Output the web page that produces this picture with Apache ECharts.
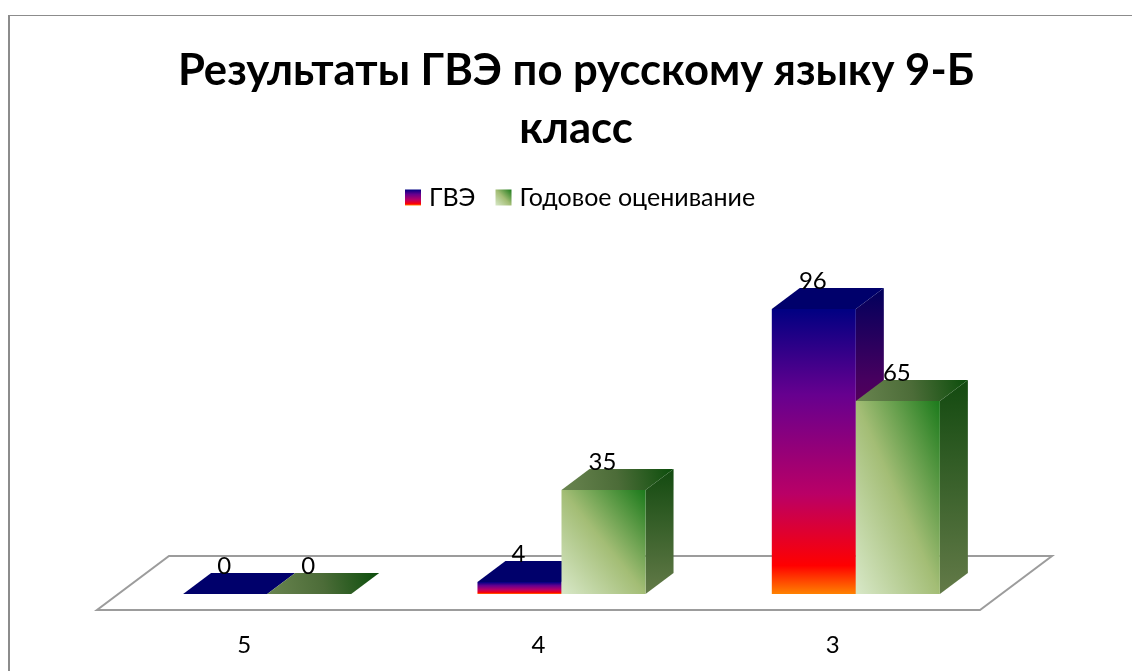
<!DOCTYPE html>
<html>
<head>
<meta charset="utf-8">
<style>html,body{margin:0;padding:0;background:#fff;overflow:hidden}#c{width:1132px;height:671px}</style>
<script src="https://cdn.jsdelivr.net/npm/echarts@6/dist/echarts.min.js"></script>
</head>
<body>
<div id="c"></div>
<script>
const titleText = 'Результаты ГВЭ по русскому языку 9-Б\nкласс';
const categories = ['5', '4', '3'];
const seriesNames = ['ГВЭ', 'Годовое оценивание'];
const gveValues = [0, 4, 96];
const yearValues = [0, 35, 65];

const FONT = 'Lato, "Open Sans", sans-serif';
const LG = echarts.graphic.LinearGradient;
const stops = a => a.map(([offset, color]) => ({offset, color}));
const DEPTH_X = 28, DEPTH_Y = -21, BAR_FRAC = 0.2855;

function diagonal(w, h, colorStops) {
  const L2 = w * w + h * h;
  const dx = h * h / L2, dy = w * w / L2;
  return new LG(0.5 - dx, 0.5 + dy, 0.5 + dx, 0.5 - dy, stops(colorStops));
}
const GREEN_STOPS = [[0,'#d8e8c8'],[0.5,'#a3bd75'],[1,'#1b7a1b']];

const paints = [
  {
    front: () => new LG(0, 0, 0, 1, stops([[0,'#000082'],[0.3,'#66008f'],[0.65,'#ba0066'],[0.9,'#ff0000'],[1,'#ff8200']])),
    top: () => '#00006b',
    side: () => new LG(0, 0, 0, 1, stops([[0,'#00005c'],[0.3,'#47005f'],[0.65,'#820047'],[1,'#a00000']]))
  },
  {
    front: (w, h) => diagonal(w, h, GREEN_STOPS),
    top: () => new LG(0, 1, 1, 0, stops([[0,'#6a8550'],[0.5,'#4c6c38'],[1,'#0b4d0b']])),
    side: () => new LG(0, 0, 0, 1, stops([[0,'#134a10'],[1,'#637a48']]))
  }
];

function barRenderer(seriesIndex) {
  return function (params, api) {
    const idx = api.value(0), val = api.value(1);
    const band = api.size([1, 0])[0];
    const w = band * BAR_FRAC;
    const center = api.coord([idx, 0])[0];
    const x0 = seriesIndex === 0 ? center - w : center;
    const x1 = x0 + w;
    const yb = api.coord([idx, 0])[1];
    const yt = api.coord([idx, val])[1];
    const p = paints[seriesIndex];
    const children = [];
    if (val > 0) {
      children.push({type:'polygon', shape:{points:[[x1,yt],[x1+DEPTH_X,yt+DEPTH_Y],[x1+DEPTH_X,yb+DEPTH_Y],[x1,yb]]}, style:{fill:p.side()}});
      children.push({type:'rect', shape:{x:x0,y:yt,width:w,height:yb-yt}, style:{fill:p.front(w, yb-yt)}});
    }
    children.push({type:'polygon', shape:{points:[[x0,yt],[x1,yt],[x1+DEPTH_X,yt+DEPTH_Y],[x0+DEPTH_X,yt+DEPTH_Y]]}, style:{fill:p.top()}});
    children.push({type:'text', z2:10, style:{text:String(val), x:(x0+x1)/2-1, y:yt-28, align:'center', verticalAlign:'middle', fill:'#000', font:'24px '+FONT}});
    return {type:'group', children};
  };
}

function floorRenderer(params) {
  const c = params.coordSys;
  const yb = c.y + c.height;
  const l = c.x, r = c.x + c.width;
  return {type:'polygon', silent:true, shape:{points:[[l-23,yb+16],[r-23,yb+16],[r+49,yb-38],[l+49,yb-38]]},
    style:{fill:'#fff', stroke:'#9c9c9c', lineWidth:2}};
}

const chart = echarts.init(document.getElementById('c'), null, {renderer:'canvas'});
chart.setOption({
  animation: false,
  backgroundColor: '#fff',
  title: {
    text: titleText, left: 571, top: 37, textAlign: 'center',
    textStyle: {fontFamily: FONT, fontWeight: 'bold', fontSize: 43.6, lineHeight: 58, color: '#000'}
  },
  legend: {
    data: seriesNames, left: 400, top: 180, icon: 'rect', itemWidth: 16, itemHeight: 16, itemGap: 20,
    textStyle: {fontFamily: FONT, fontSize: 25, color: '#000', padding: [0,0,0,3]}, selectedMode: false
  },
  grid: {left: 120, width: 883, top: 297, height: 297},
  xAxis: {
    type: 'category', data: categories,
    axisLine: {show:false}, axisTick: {show:false}, splitLine: {show:false},
    axisLabel: {fontFamily: FONT, fontSize: 24, color:'#000', margin: 39, padding: [0,46,0,0]}
  },
  yAxis: {type:'value', min:0, max:100, interval:20, show:false, splitLine:{show:false}},
  graphic: [
    {type:'rect', left:8, top:15, shape:{width:2, height:656}, style:{fill:'#8c8c8c'}},
    {type:'rect', left:8, top:15, shape:{width:1124, height:1}, style:{fill:'#8c8c8c'}}
  ],
  series: [
    {type:'custom', name:'floor', silent:true, z:1, renderItem:floorRenderer, data:[[0,0]], encode:{x:0,y:1}},
    {type:'custom', name:seriesNames[0], z:2, renderItem:barRenderer(0), itemStyle:{color:paints[0].front()},
      encode:{x:0,y:1}, data:categories.map((c,i)=>[i,gveValues[i]])},
    {type:'custom', name:seriesNames[1], z:3, renderItem:barRenderer(1), itemStyle:{color:paints[1].front(1,1)},
      encode:{x:0,y:1}, data:categories.map((c,i)=>[i,yearValues[i]])}
  ]
});
</script>
</body>
</html>
